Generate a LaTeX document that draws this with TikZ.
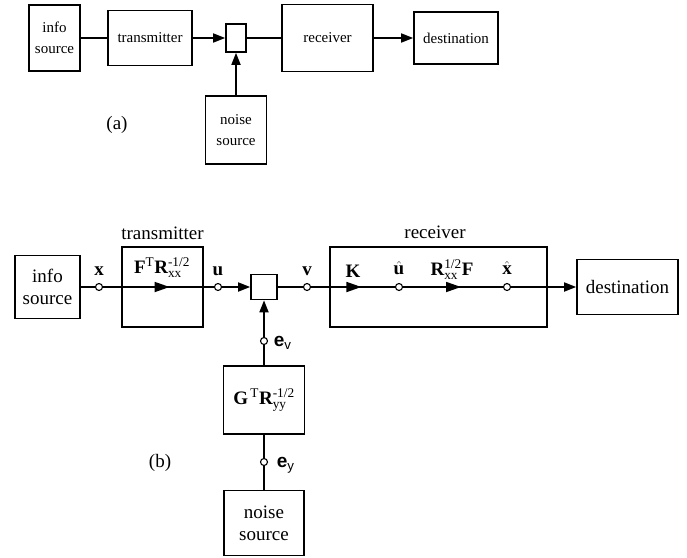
\documentclass[tikz,border=0pt]{standalone}
\usepackage{amsmath}
\usepackage{fontspec}
\setmainfont{Liberation Serif}
\setsansfont{Liberation Sans}
\usetikzlibrary{arrows.meta,decorations.markings}
\newcommand\nb[1]{\textnormal{#1}}

\begin{document}
\begin{tikzpicture}[x=1pt,y=-1pt,line width=1.7pt,
		blk/.style n args={2}{draw,minimum width=#1,minimum height=#2,inner sep=0pt,align=center},
		fa/.style={font=\fontsize{15}{21}\selectfont},
		fb/.style={font=\fontsize{19}{22}\selectfont},
		sig/.style={inner sep=1pt,font=\fontsize{19}{22}\selectfont\bfseries},
		esig/.style={anchor=west,inner sep=1pt,font=\fontsize{19}{22}\selectfont\sffamily},
		junc/.style={circle,draw,fill=white,minimum size=7pt,inner sep=0pt,line width=1.1pt},
		arrtip/.style={-{Triangle[length=12pt,width=9pt]}},
		midarr/.style={postaction={decorate},decoration={markings,mark=at position #1 with {\arrow{Triangle[length=15pt,width=10pt]}}}}]
			\useasboundingbox (0,0) rectangle (687,557);
			% (a)
			\node[blk={51}{66},fa] (srca) at (54.5,38) {info\\source};
			\node[blk={84}{55},fa] (txa) at (150,38) {transmitter};
			\node[blk={20}{28}] (adda) at (236,38) {};
			\node[blk={91}{67},fa] (rxa) at (327.5,38) {receiver};
			\node[blk={84}{52},fa] (dsta) at (456,38) {destination};
			\node[blk={61}{68},fa] (nsa) at (236,130) {noise\\source};
			\node[fb] (laba) at (117,125) {(a)};
			\draw (srca) -- (txa);
			\draw[arrtip] (txa) -- (adda);
			\draw (adda) -- (rxa);
			\draw[arrtip] (rxa) -- (dsta);
			\draw[arrtip] (nsa) -- (adda);
			% (b)
			\node[blk={65}{63},fb] (srcb) at (47.5,287) {info\\source};
			\node[blk={81}{80}] (txb) at (162.5,287) {};
			\node[fb] (txlab) at (162.5,233) {transmitter};
			\node[sig] (txf) at (162,268) {$\textbf{F}^{\nb{T}}\textbf{R}^{\nb{-1/2}}_{\nb{xx}}$};
			\node[blk={26}{25}] (addb) at (264,287) {};
			\node[blk={217}{80}] (rxb) at (438.5,287) {};
			\node[fb] (rxlab) at (435,232) {receiver};
			\node[blk={101}{55},fb] (dstb) at (627.5,287) {destination};
			\node[blk={81}{68},sig] (gb) at (264,400) {$\textbf{G}^{\,\nb{T}}\textbf{R}^{\nb{-1/2}}_{\nb{yy}}$};
			\node[blk={80}{65},fb] (nsb) at (264,523) {noise\\source};
			\node[fb] (labb) at (160,463) {(b)};
			\foreach \n/\x/\y in {xb/99/287,ub/218/287,vb/307/287,uhb/399/287,xhb/507/287,evb/264/341,eyb/264/462}
				\node[junc] (\n) at (\x,\y) {};
			\node[sig] (xlab) at (99,271) {x};
			\node[sig] (ulab) at (218,271) {u};
			\node[sig] (vlab) at (307,271) {v};
			\node[sig] (klab) at (353,271) {K};
			\node[sig] (uhlab) at (399,268) {$\hat{\textbf{u}}$};
			\node[sig] (rlab) at (452,270) {$\textbf{R}^{\nb{1/2}}_{\nb{xx}}\textbf{F}$};
			\node[sig] (xhlab) at (507,268) {$\hat{\textbf{x}}$};
			\node[esig] (evlab) at (272,343) {{\bfseries e}$_{\textsf{v}}$};
			\node[esig] (eylab) at (275,465) {{\bfseries e}$_{\textsf{y}}$};
			\draw (srcb) -- (xb);
			\draw[midarr=0.6] (xb) -- (ub);
			\draw[arrtip] (ub) -- (addb);
			\draw (addb) -- (vb);
			\draw[midarr=0.6] (vb) -- (uhb);
			\draw[midarr=0.58] (uhb) -- (xhb);
			\draw[arrtip] (xhb) -- (dstb);
			\draw[arrtip] (evb) -- (addb);
			\draw (gb) -- (evb);
			\draw (nsb) -- (eyb);
			\draw (eyb) -- (gb);
		\end{tikzpicture}
\end{document}
